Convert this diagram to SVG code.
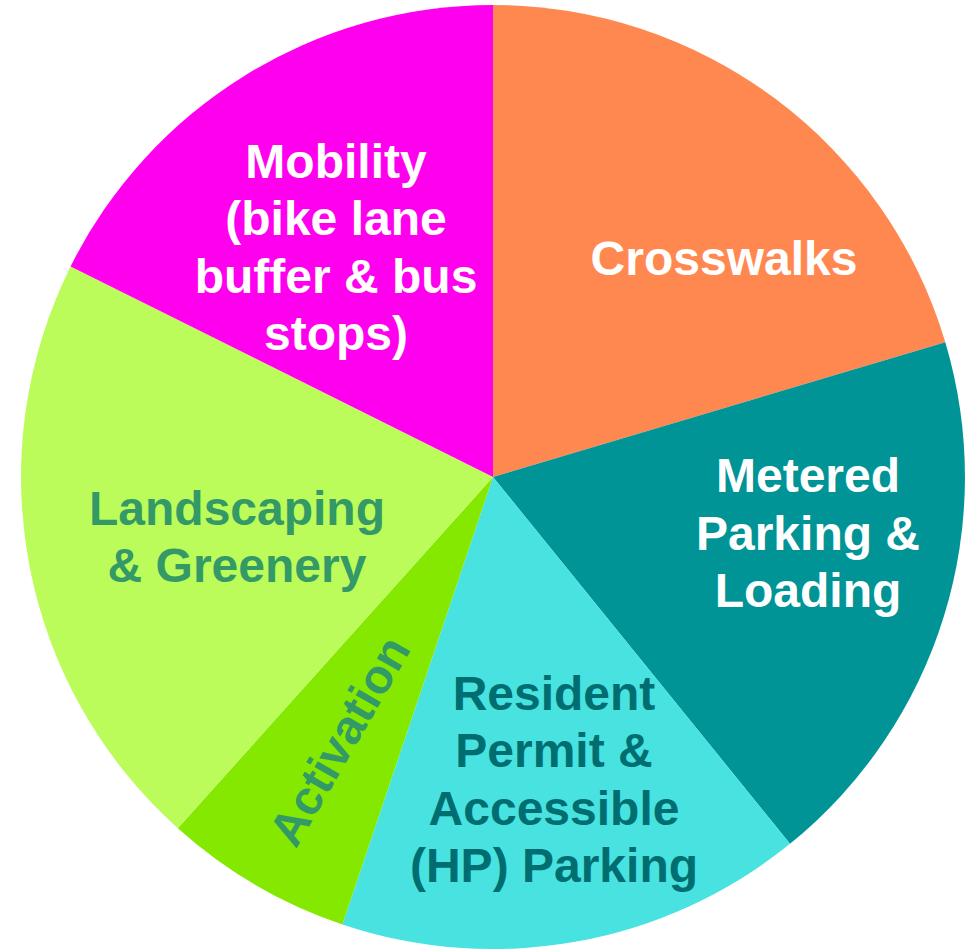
<svg xmlns="http://www.w3.org/2000/svg" width="972" height="950" viewBox="0 0 972 950">
<style>
  .lbl { font-family: "Liberation Sans", Arial, sans-serif; font-weight: bold; font-size: 48px; text-anchor: middle; }
  .w { fill: #FFFFFF; }
  .g { fill: #339966; }
  .t { fill: #006E70; }
</style>
<rect width="972" height="950" fill="#FFFFFF"/>
<g id="crosswalks">
  <path d="M493,477 L493,5 A472,472 0 0 1 945.3,342.2 Z" fill="#FF8851"/>
  <text class="lbl w" x="724" y="275">Crosswalks</text>
</g>
<g id="metered">
  <path d="M493,477 L945.3,342.2 A472,472 0 0 1 790,843.8 Z" fill="#009497"/>
  <text class="lbl w" x="808" y="492">Metered</text>
  <text class="lbl w" x="808" y="550">Parking &amp;</text>
  <text class="lbl w" x="808" y="607">Loading</text>
</g>
<g id="resident">
  <path d="M493,477 L790,843.8 A472,472 0 0 1 342.4,924.4 Z" fill="#48E3E0"/>
  <text class="lbl t" x="554" y="710">Resident</text>
  <text class="lbl t" x="554" y="767">Permit &amp;</text>
  <text class="lbl t" x="554" y="825">Accessible</text>
  <text class="lbl t" x="554" y="882">(HP) Parking</text>
</g>
<g id="activation">
  <path d="M493,477 L342.4,924.4 A472,472 0 0 1 177.8,828.3 Z" fill="#84E800"/>
  <text class="lbl g" transform="translate(354,749) rotate(-60)" x="0" y="0">Activation</text>
</g>
<g id="landscaping">
  <path d="M493,477 L177.8,828.3 A472,472 0 0 1 70.6,266.4 Z" fill="#BBFC5A"/>
  <text class="lbl g" x="237" y="525">Landscaping</text>
  <text class="lbl g" x="237" y="582">&amp; Greenery</text>
</g>
<g id="mobility">
  <path d="M493,477 L70.6,266.4 A472,472 0 0 1 493,5 Z" fill="#FF00EE"/>
  <text class="lbl w" x="336" y="178">Mobility</text>
  <text class="lbl w" x="336" y="235">(bike lane</text>
  <text class="lbl w" x="336" y="293">buffer &amp; bus</text>
  <text class="lbl w" x="336" y="350">stops)</text>
</g>
<g id="connectors"></g>
</svg>
